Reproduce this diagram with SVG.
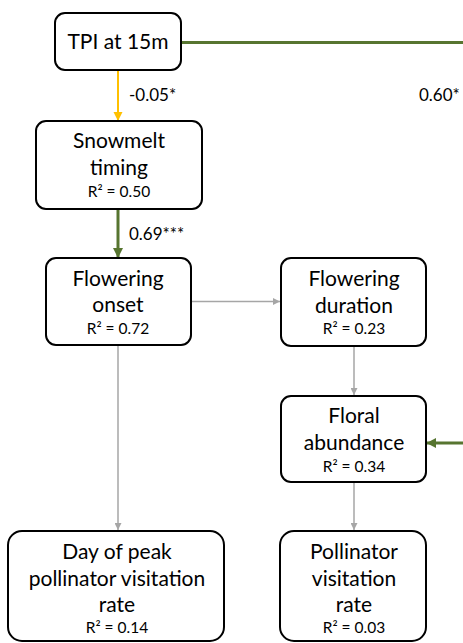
<svg xmlns="http://www.w3.org/2000/svg" width="463" height="643" viewBox="0 0 463 643">
<style>
.box{fill:#fff;stroke:#000;stroke-width:2}
.t{font-family:Lato,"Open Sans","Liberation Sans",sans-serif;font-size:21px;fill:#000;text-anchor:middle}
.r{font-family:Lato,"Open Sans","Liberation Sans",sans-serif;font-size:15.5px;fill:#000;text-anchor:middle}
.l{font-family:Lato,"Open Sans","Liberation Sans",sans-serif;font-size:17px;fill:#000}
.gray{stroke:#a6a6a6;stroke-width:1.5;fill:none}
.green{stroke:#577530;stroke-width:3;fill:none}
.orange{stroke:#ffc000;stroke-width:2;fill:none}
</style>
<defs>
<marker id="ag" viewBox="0 0 10 10" refX="10" refY="5" markerWidth="7" markerHeight="7" markerUnits="userSpaceOnUse" orient="auto"><path d="M0,0L10,5L0,10z" fill="#a6a6a6"/></marker>
<marker id="agr" viewBox="0 0 10 10" refX="10" refY="5" markerWidth="9" markerHeight="9" markerUnits="userSpaceOnUse" orient="auto"><path d="M0,0L10,5L0,10z" fill="#577530"/></marker>
<marker id="ao" viewBox="0 0 10 10" refX="10" refY="5" markerWidth="9" markerHeight="9" markerUnits="userSpaceOnUse" orient="auto"><path d="M0,0L10,5L0,10z" fill="#ffc000"/></marker>
</defs>
<g id="connectors">
<line class="green" x1="181" y1="42.5" x2="463" y2="42.5"/>
<line class="orange" x1="118" y1="70" x2="118" y2="120"/>
<line class="green" x1="118" y1="209" x2="118" y2="257"/>
<line class="gray" x1="191" y1="301.5" x2="280" y2="301.5" marker-end="url(#ag)"/>
<line class="gray" x1="354" y1="346" x2="354" y2="395" marker-end="url(#ag)"/>
<line class="green" x1="463" y1="443" x2="427" y2="443"/>
<line class="gray" x1="118" y1="345" x2="118" y2="530" marker-end="url(#ag)"/>
<line class="gray" x1="354" y1="482" x2="354" y2="530" marker-end="url(#ag)"/>
<path d="M113.5,112L122.5,112L118,121z" fill="#ffc000"/>
<path d="M113,248L123,248L118,258z" fill="#577530"/>
<path d="M436,438L436,448L426.5,443z" fill="#577530"/>
<text class="l" x="129" y="101">-0.05*</text>
<text class="l" x="129" y="240">0.69***</text>
<text class="l" x="419" y="101">0.60*</text>
</g>
<g id="tpi">
<rect class="box" x="55" y="13" width="126" height="57" rx="10"/>
<text class="t" x="118" y="49">TPI at 15m</text>
</g>
<g id="snowmelt">
<rect class="box" x="36" y="121" width="166" height="88" rx="10"/>
<text class="t" x="119" y="148">Snowmelt</text>
<text class="t" x="119" y="175">timing</text>
<text class="r" x="119" y="197">R² = 0.50</text>
</g>
<g id="onset">
<rect class="box" x="46" y="258" width="145" height="87" rx="10"/>
<text class="t" x="118" y="286">Flowering</text>
<text class="t" x="118" y="312">onset</text>
<text class="r" x="118" y="334">R² = 0.72</text>
</g>
<g id="duration">
<rect class="box" x="281" y="258" width="145" height="88" rx="10"/>
<text class="t" x="354" y="286">Flowering</text>
<text class="t" x="354" y="313">duration</text>
<text class="r" x="354" y="334">R² = 0.23</text>
</g>
<g id="abundance">
<rect class="box" x="281" y="396" width="145" height="86" rx="10"/>
<text class="t" x="354" y="423">Floral</text>
<text class="t" x="354" y="450">abundance</text>
<text class="r" x="354" y="472">R² = 0.34</text>
</g>
<g id="peak">
<rect class="box" x="8" y="531" width="216" height="110" rx="14"/>
<text class="t" x="117" y="559">Day of peak</text>
<text class="t" x="117" y="586">pollinator visitation</text>
<text class="t" x="117" y="612">rate</text>
<text class="r" x="117" y="633">R² = 0.14</text>
</g>
<g id="visitation">
<rect class="box" x="280" y="531" width="146" height="110" rx="14"/>
<text class="t" x="354" y="559">Pollinator</text>
<text class="t" x="354" y="586">visitation</text>
<text class="t" x="354" y="612">rate</text>
<text class="r" x="354" y="633">R² = 0.03</text>
</g>
</svg>
